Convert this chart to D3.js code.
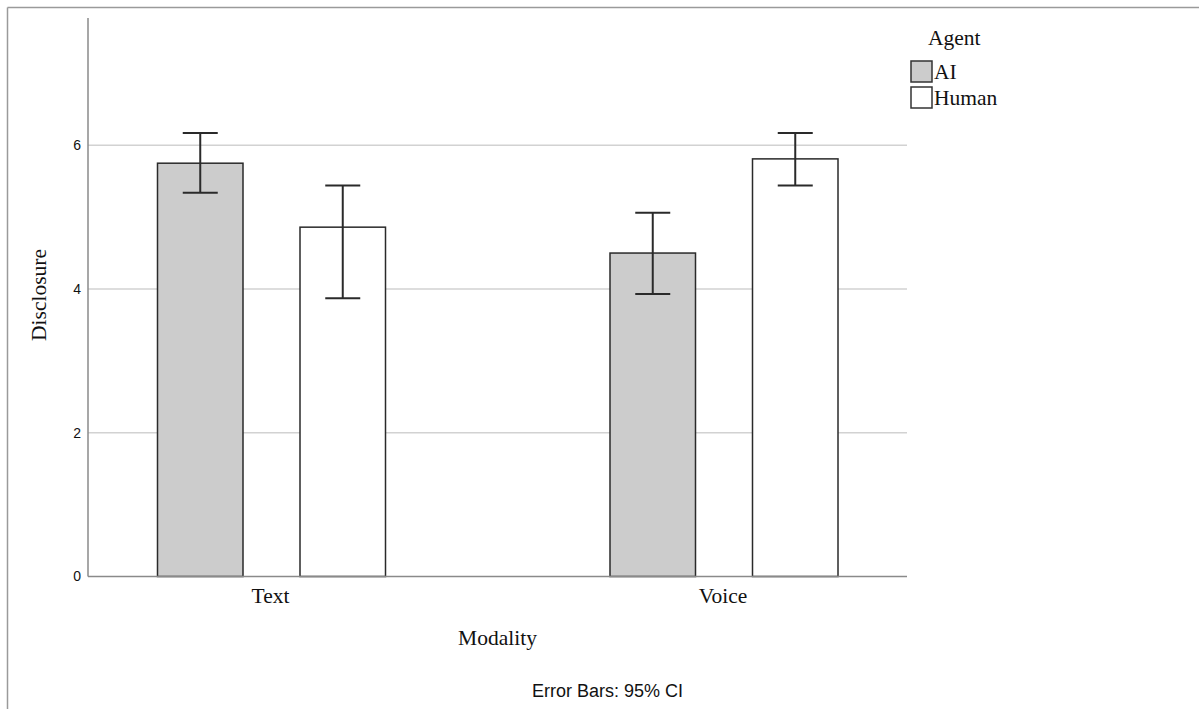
<!DOCTYPE html>
<html>
<head>
<meta charset="utf-8">
<script src="https://cdn.jsdelivr.net/npm/d3@7"></script>
<style>
  body { margin: 0; background: #fff; }
  svg { display: block; }
  .serif { font-family: "Liberation Serif", "Times New Roman", serif; fill: #111; }
  .sans { font-family: "Liberation Sans", Arial, sans-serif; fill: #111; }
</style>
</head>
<body>
<div id="chart"></div>
<script>
// data
var modalities = ["Text", "Voice"];
var agents = ["AI", "Human"];
var agentFill = ["#cccccc", "#ffffff"];
var means = [[5.75, 4.86], [4.50, 5.81]];
var ciLow = [[5.34, 3.87], [3.93, 5.44]];
var ciHigh = [[6.17, 5.44], [5.06, 6.17]];
var yTicks = [0, 2, 4, 6];

var width = 1199, height = 709;

var svg = d3.select("#chart").append("svg")
    .attr("width", width)
    .attr("height", height);

// outer frame (only top and left show)
svg.append("line").attr("x1", 7.5).attr("x2", width).attr("y1", 7.5).attr("y2", 7.5)
  .attr("stroke", "#9a9a9a").attr("stroke-width", 1.5);
svg.append("line").attr("x1", 7.5).attr("x2", 7.5).attr("y1", 7.5).attr("y2", height)
  .attr("stroke", "#9a9a9a").attr("stroke-width", 1.5);

var plot = {left: 88, right: 907, top: 18, bottom: 576.5};

var y = d3.scaleLinear()
  .domain([0, 7.77])
  .range([plot.bottom, plot.top]);

// category positions
var x0 = d3.scalePoint()
  .domain(modalities)
  .range([271.5, 724])
var x1 = d3.scaleBand()
  .domain(agents)
  .range([-114, 114])
  .paddingInner(0.4)
  .paddingOuter(0);

var g = svg.append("g");

// gridlines
g.selectAll(".grid")
  .data(yTicks.filter(d => d > 0))
  .enter().append("line")
  .attr("x1", plot.left).attr("x2", plot.right)
  .attr("y1", d => y(d)).attr("y2", d => y(d))
  .attr("stroke", "#d2d2d2").attr("stroke-width", 1.5);

// y axis
var yAxis = g.append("g")
  .attr("transform", "translate(" + plot.left + ",0)")
  .call(d3.axisLeft(y).tickValues(yTicks).tickSize(0).tickPadding(7));
yAxis.select(".domain").remove();
yAxis.selectAll("text")
  .attr("class", "sans")
  .style("font-size", "14px")
  .attr("fill", "#111");

g.append("line")
  .attr("x1", plot.left).attr("x2", plot.left)
  .attr("y1", plot.top).attr("y2", plot.bottom)
  .attr("stroke", "#8a8a8a").attr("stroke-width", 1.5);

// bars
var rows = [];
modalities.forEach(function(m, i) {
  agents.forEach(function(a, j) {
    rows.push({mod: m, agent: a, j: j, mean: means[i][j], lo: ciLow[i][j], hi: ciHigh[i][j]});
  });
});

g.selectAll(".bar")
  .data(rows)
  .enter().append("rect")
  .attr("x", d => x0(d.mod) + x1(d.agent))
  .attr("y", d => y(d.mean))
  .attr("width", x1.bandwidth())
  .attr("height", d => y(0) - y(d.mean))
  .attr("fill", d => agentFill[d.j])
  .attr("stroke", "#2a2a2a")
  .attr("stroke-width", 1.5);

// baseline
g.append("line")
  .attr("x1", plot.left).attr("x2", plot.right)
  .attr("y1", y(0)).attr("y2", y(0))
  .attr("stroke", "#8a8a8a").attr("stroke-width", 1.5);

// error bars
var cap = 17.5;
var cx = d => x0(d.mod) + x1(d.agent) + x1.bandwidth() / 2;
var eb = g.selectAll(".err")
  .data(rows)
  .enter().append("g")
  .attr("stroke", "#2a2a2a")
  .attr("stroke-width", 2);
eb.append("line")
  .attr("x1", cx).attr("x2", cx)
  .attr("y1", d => y(d.lo)).attr("y2", d => y(d.hi));
eb.append("line")
  .attr("x1", d => cx(d) - cap).attr("x2", d => cx(d) + cap)
  .attr("y1", d => y(d.hi)).attr("y2", d => y(d.hi));
eb.append("line")
  .attr("x1", d => cx(d) - cap).attr("x2", d => cx(d) + cap)
  .attr("y1", d => y(d.lo)).attr("y2", d => y(d.lo));

// x category labels
g.selectAll(".xlab")
  .data(modalities)
  .enter().append("text")
  .attr("class", "serif")
  .attr("x", d => x0(d) - 1)
  .attr("y", 603)
  .attr("text-anchor", "middle")
  .style("font-size", "21.5px")
  .text(d => d);

// axis titles
svg.append("text")
  .attr("class", "serif")
  .attr("x", 497.5).attr("y", 645)
  .attr("text-anchor", "middle")
  .style("font-size", "21.5px")
  .text("Modality");

svg.append("text")
  .attr("class", "serif")
  .attr("transform", "translate(46,295) rotate(-90)")
  .attr("text-anchor", "middle")
  .style("font-size", "21.5px")
  .text("Disclosure");

svg.append("text")
  .attr("class", "sans")
  .attr("x", 607.5).attr("y", 697)
  .attr("text-anchor", "middle")
  .style("font-size", "18px")
  .text("Error Bars: 95% CI");

// legend
var legend = svg.append("g").attr("transform", "translate(911,0)");
legend.append("text")
  .attr("class", "serif")
  .attr("x", 17).attr("y", 45)
  .style("font-size", "21.5px")
  .text("Agent");

var items = legend.selectAll(".item")
  .data(agents)
  .enter().append("g")
  .attr("transform", (d, i) => "translate(0," + (61 + i * 26) + ")");
items.append("rect")
  .attr("x", 0).attr("y", 0)
  .attr("width", 21).attr("height", 21)
  .attr("fill", (d, i) => agentFill[i])
  .attr("stroke", "#333")
  .attr("stroke-width", 1.5);
items.append("text")
  .attr("class", "serif")
  .attr("x", 23).attr("y", 17.5)
  .style("font-size", "21.5px")
  .text(d => d);
</script>
</body>
</html>
